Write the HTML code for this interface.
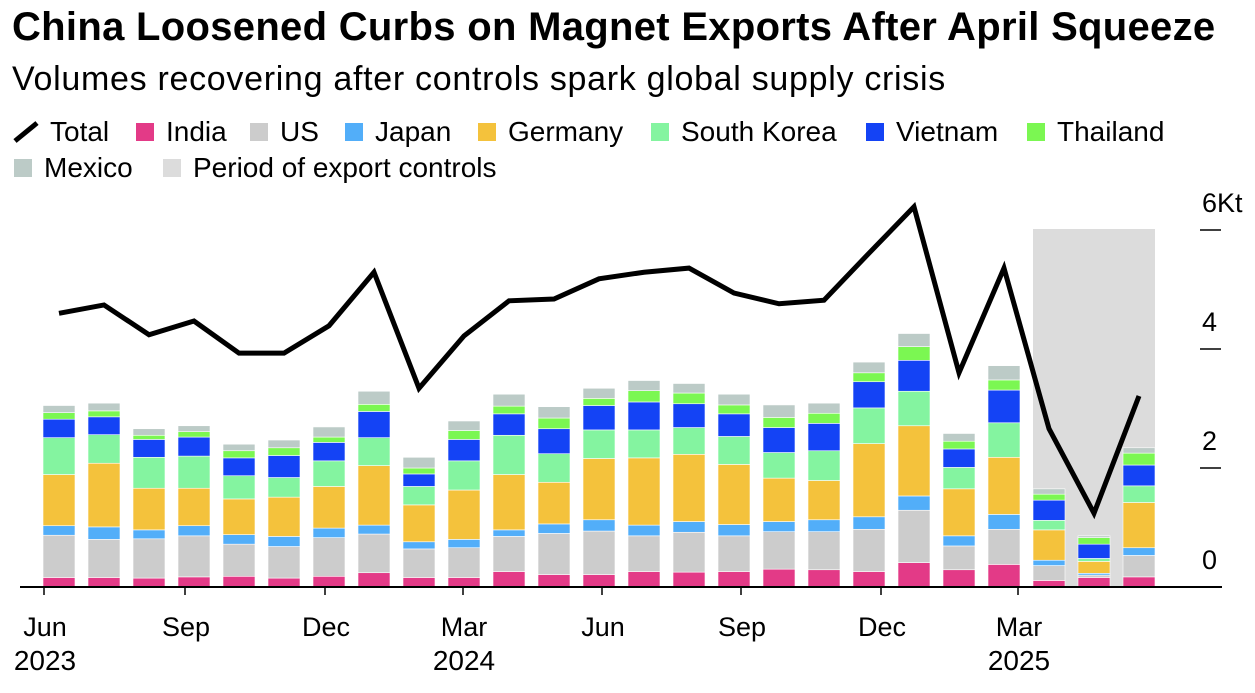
<!DOCTYPE html>
<html><head><meta charset="utf-8"><style>
body{margin:0;background:#fff;font-family:"Liberation Sans",Arial,sans-serif;}
#wrap{position:relative;width:1255px;height:693px;overflow:hidden;}
.t{position:absolute;white-space:nowrap;color:#000;}
.leg{position:absolute;font-size:28px;display:flex;align-items:center;white-space:nowrap;}
.sw{display:inline-block;width:18px;height:18px;margin-right:12px;}
</style></head><body>
<div id="wrap">
<div class="t" style="left:12px;top:5px;font-size:40px;font-weight:bold;letter-spacing:0.3px;">China Loosened Curbs on Magnet Exports After April Squeeze</div>
<div class="t" style="left:12px;top:60px;font-size:34px;letter-spacing:0.7px;">Volumes recovering after controls spark global supply crisis</div>
<div id="legend"></div>
<svg id="svg" width="1255" height="693" style="position:absolute;left:0;top:0"></svg>
</div>
<script>
const months=["Jun 2023","Jul 2023","Aug 2023","Sep 2023","Oct 2023","Nov 2023","Dec 2023","Jan 2024","Feb 2024","Mar 2024","Apr 2024","May 2024","Jun 2024","Jul 2024","Aug 2024","Sep 2024","Oct 2024","Nov 2024","Dec 2024","Jan 2025","Feb 2025","Mar 2025","Apr 2025","May 2025","Jun 2025"];
const india=[.16,.16,.15,.17,.18,.15,.18,.24,.16,.16,.26,.21,.21,.26,.25,.26,.30,.29,.26,.41,.29,.38,.11,.16,.17];
const us=[.71,.64,.66,.69,.54,.53,.65,.65,.48,.50,.59,.69,.73,.60,.67,.60,.63,.64,.71,.88,.40,.59,.25,.04,.36];
const japan=[.16,.21,.15,.17,.16,.17,.16,.15,.12,.14,.11,.16,.19,.18,.18,.19,.17,.20,.21,.24,.17,.25,.09,.03,.13];
const germany=[.86,1.07,.70,.63,.60,.66,.70,1.00,.62,.83,.93,.70,1.03,1.13,1.13,1.01,.73,.66,1.23,1.18,.79,.96,.51,.20,.76];
const southKorea=[.62,.48,.52,.54,.39,.33,.43,.47,.31,.49,.66,.48,.48,.47,.45,.47,.43,.50,.60,.58,.36,.58,.16,.05,.28];
const vietnam=[.31,.30,.30,.32,.30,.37,.31,.44,.21,.36,.36,.42,.41,.47,.40,.38,.42,.46,.44,.52,.31,.55,.34,.24,.35];
const thailand=[.11,.10,.07,.09,.12,.13,.09,.12,.10,.15,.13,.18,.12,.19,.18,.15,.17,.17,.15,.23,.13,.17,.10,.11,.20];
const mexico=[.12,.13,.11,.10,.11,.13,.17,.22,.18,.16,.20,.19,.17,.17,.16,.18,.21,.17,.18,.22,.13,.24,.09,.03,.09];
const total=[4.6,4.74,4.24,4.47,3.93,3.93,4.39,5.29,3.34,4.22,4.81,4.84,5.18,5.29,5.36,4.94,4.76,4.82,5.61,6.39,3.6,5.36,2.66,1.24,3.21];
const yTicks=[0,2,4,6];
const yTickLabels=["0","2","4","6Kt"];
const xTickLabels=["Jun","Sep","Dec","Mar","Jun","Sep","Dec","Mar"];
const xTickYears=["2023","","","2024","","","","2025"];
const xTickIdx=[0,3,6,9,12,15,18,21];
const controlStart=22, controlEnd=24;

const series=[["India",india,"#e33a87"],["US",us,"#cccccc"],["Japan",japan,"#52aef9"],["Germany",germany,"#f4c23c"],["South Korea",southKorea,"#84f4a0"],["Vietnam",vietnam,"#1443f5"],["Thailand",thailand,"#7bf752"],["Mexico",mexico,"#bccbc7"]];
const NS="http://www.w3.org/2000/svg";
const svg=document.getElementById('svg');
const y0=587, pxPer=59.5, barW=32, step=45, left0=43;
const y=v=>y0-v*pxPer;
const xL=i=>left0+i*step;
const xC=i=>xL(i)+barW/2;
const tickX=[44,185,325,463,602,741,881,1018];
function mk(tag,attrs){const e=document.createElementNS(NS,tag);for(const k in attrs)e.setAttribute(k,attrs[k]);svg.appendChild(e);return e;}

const sh=mk('rect',{x:xL(controlStart),y:y(6)-1,width:xL(controlEnd)+barW-xL(controlStart),height:y(0)-y(6)+1,fill:'#dcdcdc'});



months.forEach((m,i)=>{
  let cum=0;
  series.forEach(([name,arr,col])=>{
    const v=arr[i];
    const r=mk('rect',{x:xL(i),y:y(cum+v),width:barW,height:v*pxPer,fill:col,stroke:'#fff','stroke-width':0.6});
    
    
    cum+=v;
  });
});

const ax=mk('line',{x1:20,x2:1222,y1:y0,y2:y0,stroke:'#000','stroke-width':2});



yTicks.forEach((v,k)=>{
  const l=mk('line',{x1:1200,x2:1221,y1:y(v),y2:y(v),stroke:'#000','stroke-width':1.5});
  
  
  const t=mk('text',{x:1202,y:y(v)-18,'font-size':27,'font-family':'Liberation Sans, sans-serif'});
  t.textContent=yTickLabels[k];
  
  
});

xTickIdx.forEach((idx,k)=>{
  const x=tickX[k];
  const l=mk('line',{x1:x,x2:x,y1:y0,y2:y0+8,stroke:'#000','stroke-width':1.5});
  
  
  const t=mk('text',{x:x+1,y:636,'font-size':27,'text-anchor':'middle','font-family':'Liberation Sans, sans-serif'});
  t.textContent=xTickLabels[k];
  
  
  if(xTickYears[k]){
    const t2=mk('text',{x:x+1,y:670,'font-size':28,'text-anchor':'middle','font-family':'Liberation Sans, sans-serif'});
    t2.textContent=xTickYears[k];
    
    
  }
});

const pl=mk('polyline',{points:total.map((v,i)=>xC(i)+','+y(v)).join(' '),fill:'none',stroke:'#000','stroke-width':5,'stroke-linejoin':'miter'});



const leg=document.getElementById('legend');
const items=[["Total","line",12,116],["India","#e33a87",136,116],["US","#cccccc",250,116],["Japan","#52aef9",345,116],["Germany","#f4c23c",478,116],["South Korea","#84f4a0",651,116],["Vietnam","#1443f5",866,116],["Thailand","#7bf752",1027,116],["Mexico","#bccbc7",14,152],["Period of export controls","#dcdcdc",163,152]];
items.forEach(([n,c,x,t])=>{
  const d=document.createElement('div');
  d.className='leg';d.style.left=x+'px';d.style.top=t+'px';
  
  
  if(c==='line'){d.innerHTML='<svg width="28" height="24" style="margin-right:10px"><line x1="3" y1="21" x2="25" y2="3" stroke="#000" stroke-width="5"/></svg>'+n;}
  else{d.innerHTML='<span class="sw" style="background:'+c+'"></span>'+n;}
  leg.appendChild(d);
});
</script>
</body></html>
